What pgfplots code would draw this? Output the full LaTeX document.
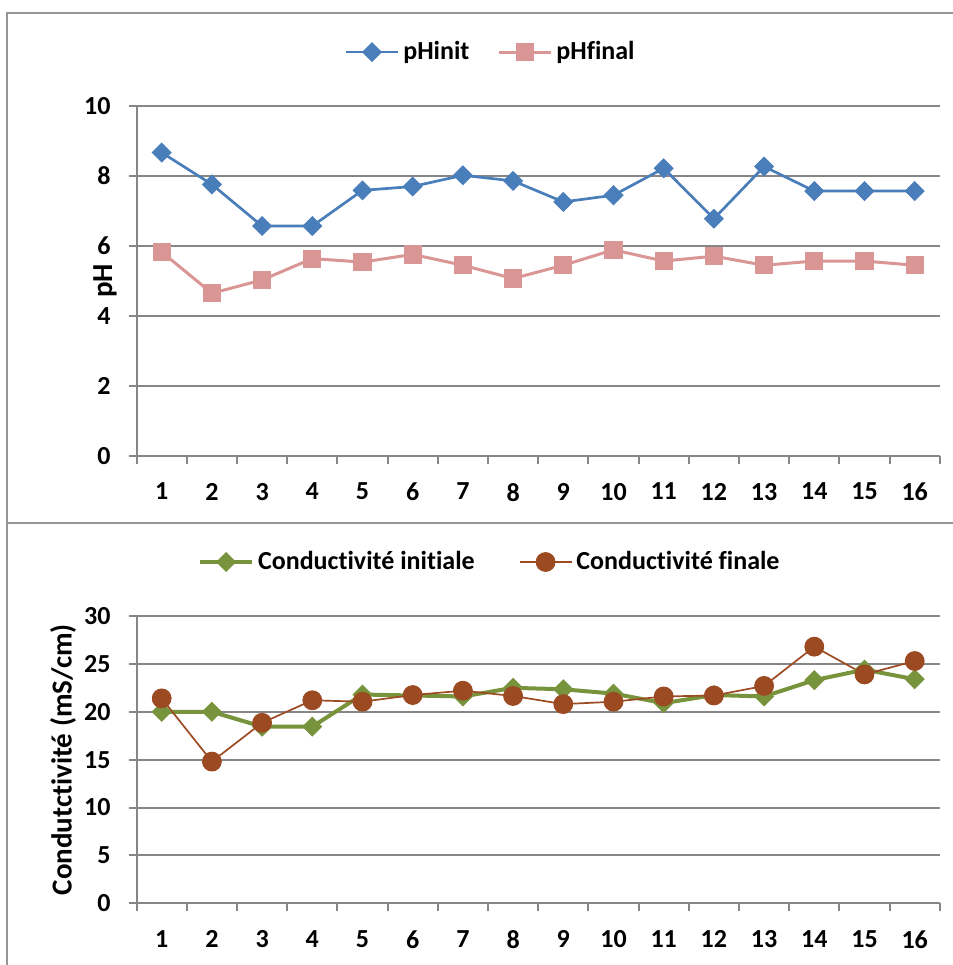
\documentclass[border=0pt]{standalone}
\usepackage{pgfplots}
\pgfplotsset{compat=1.18}
\usepackage{fontspec}
\setmainfont[Ligatures={NoCommon,NoContextual}, RawFeature={-liga;-clig;-dlig}]{Carlito}

\definecolor{phinit}{RGB}{74,126,187}
\definecolor{phfinal}{RGB}{217,150,148}
\definecolor{condi}{RGB}{119,147,60}
\definecolor{condf}{RGB}{156,74,34}
\definecolor{gridgray}{RGB}{134,134,134}
\definecolor{framegray}{RGB}{150,150,150}

\pgfplotsset{
  excelstyle/.style={
    scale only axis,
    width=401.6pt,
    xmin=0.5, xmax=16.5,
    xtick={1,...,16},
    minor xtick={0.5,1.5,...,16.5},
    axis x line=bottom, axis y line=left,
    axis line style={-, draw=gridgray, line width=1pt},
    tick align=outside,
    major tick length=4pt, minor tick length=4pt,
    major x tick style={draw=none},
    minor x tick style={draw=gridgray, line width=1pt},
    major y tick style={draw=gridgray, line width=1pt},
    ymajorgrids,
    major grid style={draw=gridgray, line width=1pt},
    /pgf/number format/assume math mode=true,
    ticklabel style={font=\fontsize{13}{15}\selectfont\bfseries},
    yticklabel style={xshift=-5.5pt},
    xticklabel style={yshift=-6pt},
    label style={font=\fontsize{14.5}{16}\selectfont\bfseries},
    legend cell align=left,
    legend image code/.code={
      \draw[mark repeat=2, mark phase=2] plot coordinates {(0pt,0pt) (13pt,0pt) (26pt,0pt)};
    },
  }
}

\begin{document}
\begin{tikzpicture}
\path[use as bounding box] (0,0) rectangle (476.5pt,-482.5pt);
% chart frames
\draw[framegray, line width=1pt] (3.6pt,-482.5pt) -- (3.6pt,-6.6pt) -- (476.5pt,-6.6pt);
\draw[framegray, line width=1pt] (3.6pt,-261.5pt) -- (476.5pt,-261.5pt);

% pH
\begin{axis}[
  excelstyle,
  at={(68.3pt,-228pt)}, anchor=south west,
  height=175pt,
  ymin=0, ymax=10, ytick={0,2,...,10},
  ylabel={pH},
  ylabel style={at={(axis description cs:-0.0393,0.5)}, anchor=center},
  legend style={draw=none, fill=none, at={(axis description cs:0.442,1.154)}, anchor=center,
    legend columns=2, font=\fontsize{13}{15}\selectfont\bfseries,
    /tikz/every even column/.append style={column sep=12pt}},
]
\addplot[color=phinit, line width=1.35pt, mark=square*, mark size=3.3pt,
  mark options={rotate=45, fill=phinit, draw=phinit, line width=0.5pt}]
  coordinates {
  (1,8.67) (2,7.76) (3,6.57) (4,6.57) (5,7.59) (6,7.70) (7,8.02) (8,7.86)
  (9,7.26) (10,7.45) (11,8.22) (12,6.78) (13,8.27) (14,7.57) (15,7.57) (16,7.57)
};
\addplot[color=phfinal, line width=1.5pt, mark=square*, mark size=4.3pt,
  mark options={fill=phfinal, draw=phfinal, line width=0.5pt}]
  coordinates {
  (1,5.83) (2,4.65) (3,5.03) (4,5.64) (5,5.54) (6,5.76) (7,5.45) (8,5.07)
  (9,5.45) (10,5.89) (11,5.57) (12,5.71) (13,5.45) (14,5.57) (15,5.57) (16,5.45)
};
\legend{pHinit, pHfinal}
\end{axis}

% Conductivite
\begin{axis}[
  excelstyle,
  at={(68.3pt,-451.65pt)}, anchor=south west,
  height=143.65pt,
  ymin=0, ymax=30, ytick={0,5,...,30},
  ylabel={Condutctivité (mS/cm)},
  ylabel style={at={(axis description cs:-0.0916,0.5)}, anchor=center},
  legend style={draw=none, fill=none, at={(axis description cs:0.441,1.188)}, anchor=center,
    legend columns=2, font=\fontsize{13}{15}\selectfont\bfseries,
    /tikz/every even column/.append style={column sep=20pt}},
]
\addplot[color=condi, line width=2pt, mark=square*, mark size=3.3pt,
  mark options={rotate=45, fill=condi, draw=condi, line width=0.5pt}]
  coordinates {
  (1,20.0) (2,20.0) (3,18.45) (4,18.45) (5,21.8) (6,21.7) (7,21.6) (8,22.5)
  (9,22.35) (10,21.9) (11,20.9) (12,21.75) (13,21.6) (14,23.3) (15,24.4) (16,23.4)
};
\addplot[color=condf, line width=0.85pt, mark=*, mark size=4.7pt,
  mark options={fill=condf, draw=condf, line width=0.5pt}]
  coordinates {
  (1,21.4) (2,14.8) (3,18.85) (4,21.2) (5,21.05) (6,21.75) (7,22.2) (8,21.65)
  (9,20.8) (10,21.05) (11,21.6) (12,21.7) (13,22.7) (14,26.8) (15,23.9) (16,25.3)
};
\legend{Conductivité initiale, Conductivité finale}
\end{axis}
\end{tikzpicture}
\end{document}
